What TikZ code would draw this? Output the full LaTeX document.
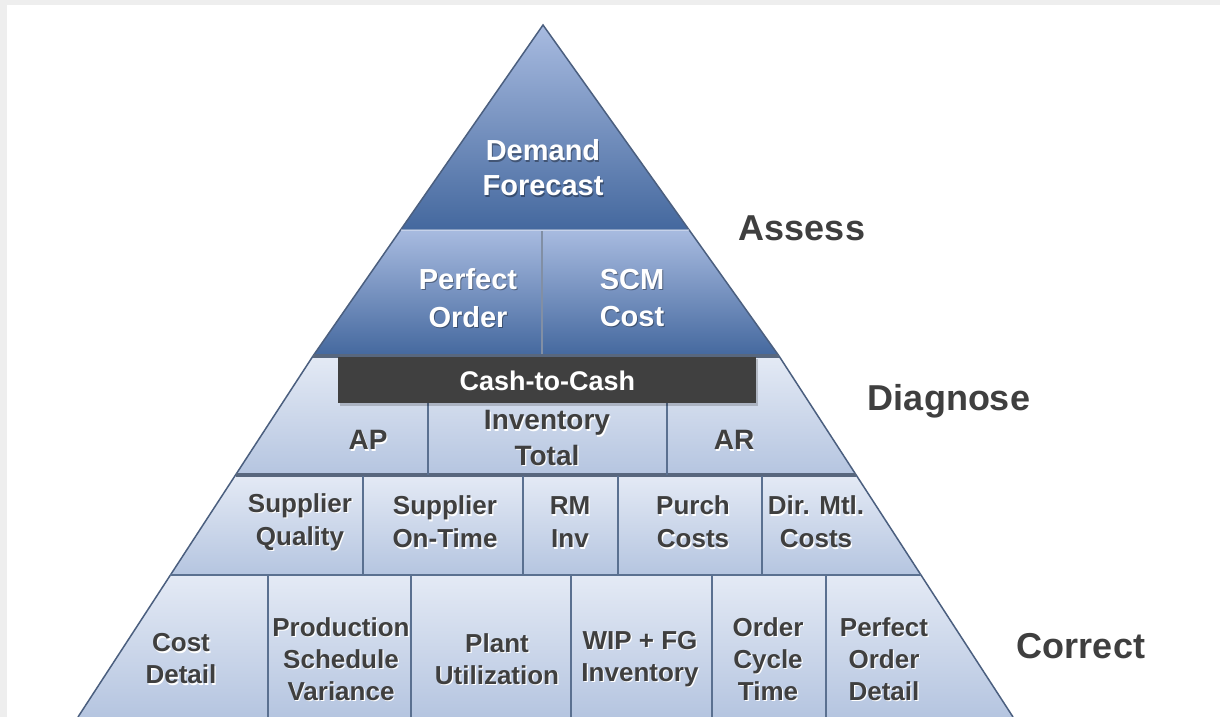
\documentclass[tikz,border=0pt]{standalone}
\usepackage{fontspec}
\setmainfont{Liberation Sans}
\definecolor{frame}{HTML}{EEEEEE}
\definecolor{edge}{HTML}{4B5F7F}
\definecolor{divi}{HTML}{5A7090}
\definecolor{upTop}{HTML}{A8BBE0}
\definecolor{upBot}{HTML}{44689E}
\definecolor{loTop}{HTML}{E4EAF5}
\definecolor{loBot}{HTML}{B5C5E0}
\definecolor{barc}{HTML}{404040}
\definecolor{txt}{HTML}{3F3F3F}
\definecolor{strip}{HTML}{58677E}
\tikzset{
  upband/.style={top color=upTop, bottom color=upBot, draw=none},
  loband/.style={top color=loTop, bottom color=loBot, draw=none},
  side/.style={draw=edge, line width=0.75pt},
  rowline/.style={draw=divi, line width=0.8pt},
  thickrow/.style={draw=strip, line width=1.6pt},
  divider/.style={draw=divi, line width=0.7pt},
  wtx/.style={text=white, font=\bfseries, align=center, inner sep=0pt},
  wsh/.style={text=black, opacity=0.35, font=\bfseries, align=center, inner sep=0pt},
  dtx/.style={text=txt, font=\bfseries, align=center, inner sep=0pt},
  dsh/.style={text=white, font=\bfseries, align=center, inner sep=0pt},
  fA/.style={font=\bfseries\fontsize{14.5}{17.5}\selectfont},
  fB/.style={font=\bfseries\fontsize{14.5}{18.8}\selectfont},
  fC/.style={font=\bfseries\fontsize{13.5}{16}\selectfont},
  fD/.style={font=\bfseries\fontsize{14}{17.5}\selectfont},
  fE/.style={font=\bfseries\fontsize{13}{16.5}\selectfont},
  fF/.style={font=\bfseries\fontsize{13}{16}\selectfont},
  fG/.style={font=\bfseries\fontsize{18}{20}\selectfont},
}
\newcommand\wlabel[5]{%
  \node[wsh,#4,xshift=0.5pt,yshift=-0.6pt] (#1s) at (#2,#3) {#5};
  \node[wtx,#4] (#1) at (#2,#3) {#5};}
\newcommand\dlabel[5]{%
  \node[dsh,#4,xshift=0.6pt,yshift=-0.8pt] (#1s) at (#2,#3) {#5};
  \node[dtx,#4] (#1) at (#2,#3) {#5};}
\begin{document}
\begin{tikzpicture}[x=0.5pt,y=-0.5pt]
\useasboundingbox (0,0) rectangle (1220,717);
\fill[frame] (0,0) rectangle (1220,717);
\fill[white] (7,5) rectangle (1220,717);
% corners
\coordinate (apex) at (543,25);
\coordinate (dl) at (400.6,230);
\coordinate (dr) at (689.2,230);
\coordinate (al) at (313,356);
\coordinate (ar) at (779,356);
\coordinate (l2) at (235.5,475);
\coordinate (r2) at (856,475);
\coordinate (l3) at (170.4,575);
\coordinate (r3) at (921,575);
\coordinate (l4) at (78,717);
\coordinate (r4) at (1013,717);
% lower bands
\shade[loband] (al) -- (ar) -- (r2) -- (l2) -- cycle;
\shade[loband] (l2) -- (r2) -- (r3) -- (l3) -- cycle;
\shade[loband] (l3) -- (r3) -- (r4) -- (l4) -- cycle;
\draw[side] (al) -- (l4);
\draw[side] (ar) -- (r4);
\draw[thickrow] (l2) -- (r2);
\draw[rowline] (l3) -- (r3);
% dividers
\coordinate (p1t) at (428,403); \coordinate (p1b) at (428,475);
\coordinate (p2t) at (667,403); \coordinate (p2b) at (667,475);
\draw[divider] (p1t) -- (p1b);
\draw[divider] (p2t) -- (p2b);
\foreach \x [count=\i] in {363,523,618,762}{
  \coordinate (q\i t) at (\x,476);
  \coordinate (q\i b) at (\x,575);
  \draw[divider] (q\i t) -- (q\i b);
}
\foreach \x [count=\i] in {268,411,571,712,826}{
  \coordinate (s\i t) at (\x,575);
  \coordinate (s\i b) at (\x,717);
  \draw[divider] (s\i t) -- (s\i b);
}
% upper part
\shade[upband] (apex) -- (dr) -- (dl) -- cycle;
\shade[upband] (dl) -- (dr) -- (ar) -- (al) -- cycle;
\draw[side] (al) -- (apex) -- (ar);
\coordinate (vt) at (542,231);
\coordinate (vb) at (542,355);
\draw[draw=edge!70, line width=0.6pt] (vt) -- (vb);
\draw[draw=white, opacity=0.35, line width=0.8pt] (dl) -- (dr);
\draw[thickrow] (al) -- (ar);
% cash bar
\fill[black, opacity=0.18] (340,359) rectangle (758,405.5);
\node[fill=barc, minimum width=209pt, minimum height=23pt, inner sep=0pt, anchor=north west] (bar) at (338,357) {};
\node[wtx,fC] (cash) at (bar.center) {Cash-to-Cash};
% top labels
\wlabel{dem}{543}{168}{fA}{Demand\\Forecast}
\wlabel{po}{468}{298}{fB}{Perfect\\Order}
\wlabel{scm}{632}{298}{fB}{SCM\\Cost}
% diagnose row
\dlabel{ap}{368}{440}{fD}{AP}
\dlabel{inv}{547}{438}{fD}{Inventory\\Total}
\dlabel{arr}{734}{440}{fD}{AR}
% row 3
\dlabel{sq}{300}{522}{fE}{Supplier\\Quality}
\dlabel{sot}{445}{522}{fE}{Supplier\\On-Time}
\dlabel{rm}{570}{522}{fE}{RM\\Inv}
\dlabel{pc}{693}{522}{fE}{Purch\\Costs}
\dlabel{dm}{816}{522}{fE}{Dir. Mtl.\\Costs}
% row 4
\dlabel{cd}{181}{659}{fF}{Cost\\Detail}
\dlabel{psv}{341}{659}{fF}{Production\\Schedule\\Variance}
\dlabel{pu}{497}{659}{fF}{Plant\\Utilization}
\dlabel{wip}{640}{659}{fF}{WIP + FG\\Inventory}
\dlabel{oct}{768}{659}{fF}{Order\\Cycle\\Time}
\dlabel{pod}{884}{659}{fF}{Perfect\\Order\\Detail}
% side labels
\node[dtx,fG] (assess) at (802,228) {Assess};
\node[dtx,fG] (diag) at (949,401) {Diagnose};
\node[dtx,fG] (corr) at (1081,646) {Correct};
\end{tikzpicture}
\end{document}
